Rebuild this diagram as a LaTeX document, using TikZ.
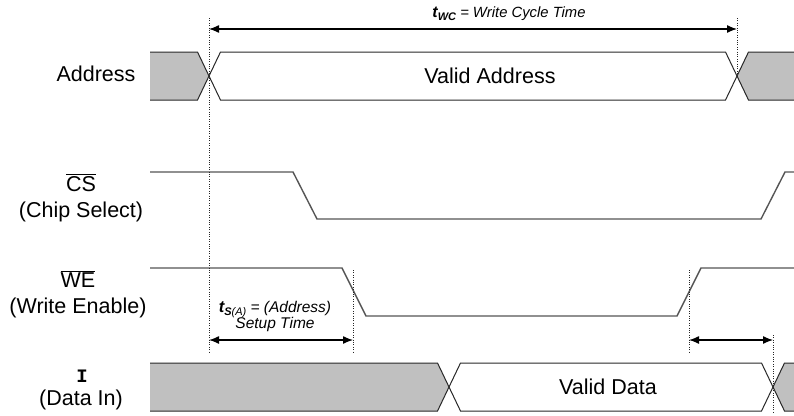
\documentclass[tikz,border=0pt]{standalone}
\usepackage{fontspec}
\setmainfont{Liberation Sans}
\setmonofont{Liberation Mono}
\usetikzlibrary{arrows.meta}
\definecolor{busfill}{RGB}{192,192,192}
\definecolor{sigc}{RGB}{85,85,85}
\definecolor{busc}{RGB}{40,40,40}
\begin{document}
\begin{tikzpicture}[x=1pt,y=-1pt,
  sig/.style={draw=sigc, line width=1.4pt, line join=miter},
  busline/.style={draw=busc, line width=1pt, line join=miter},
  busgray/.style={fill=busfill, draw=none},
  guide/.style={draw=black!85, line width=0.7pt, dash pattern=on 0.8pt off 1.6pt},
  dimarrow/.style={{Latex[length=10pt,width=8pt]}-{Latex[length=10pt,width=8pt]}, line width=1.3pt},
  lbl/.style={inner sep=0pt, font=\fontsize{21.5}{25}\selectfont, align=center},
  note/.style={inner sep=0pt, font=\fontsize{15.5}{17}\selectfont\itshape, align=center}
]
\useasboundingbox (0,0) rectangle (794,415);

% ---- Address bus ----
\fill[busgray] (150,52) -- (197.5,52) -- (209,76) -- (197.5,100) -- (150,100) -- cycle;
\fill[busgray] (794,52) -- (748.5,52) -- (737,76) -- (748.5,100) -- (794,100) -- cycle;
\draw[busline] (150,52) -- (197.5,52) -- (220.5,100) -- (725.5,100) -- (748.5,52) -- (794,52);
\draw[busline] (150,100) -- (197.5,100) -- (220.5,52) -- (725.5,52) -- (748.5,100) -- (794,100);

% ---- Data bus ----
\fill[busgray] (150,363) -- (437.5,363) -- (449,387) -- (437.5,411) -- (150,411) -- cycle;
\fill[busgray] (794,363) -- (784.5,363) -- (773,387) -- (784.5,411) -- (794,411) -- cycle;
\draw[busline] (150,363) -- (437.5,363) -- (460.5,411) -- (761.5,411) -- (784.5,363) -- (794,363);
\draw[busline] (150,411) -- (437.5,411) -- (460.5,363) -- (761.5,363) -- (784.5,411) -- (794,411);

% ---- CS and WE ----
\draw[sig] (150,172) -- (293,172) -- (317,219) -- (761,219) -- (785,172) -- (794,172);
\draw[sig] (150,268) -- (342,268) -- (366,316) -- (677,316) -- (701,268) -- (794,268);

% ---- guides ----
\coordinate (gA1) at (209,18);  \coordinate (gA2) at (209,352);
\coordinate (gB1) at (737,18);  \coordinate (gB2) at (737,76);
\coordinate (gC1) at (353,270); \coordinate (gC2) at (353,352);
\coordinate (gD1) at (689,270); \coordinate (gD2) at (689,352);
\coordinate (gE1) at (773,335); \coordinate (gE2) at (773,414);
\draw[guide] (gA1) -- (gA2);
\draw[guide] (gB1) -- (gB2);
\draw[guide] (gC1) -- (gC2);
\draw[guide] (gD1) -- (gD2);
\draw[guide] (gE1) -- (gE2);

% ---- dimension arrows ----
\coordinate (wcL) at (209,29);  \coordinate (wcR) at (737,29);
\coordinate (suL) at (209,340); \coordinate (suR) at (353,340);
\coordinate (hdL) at (689,340); \coordinate (hdR) at (773,340);
\draw[dimarrow] (wcL) -- (wcR);
\draw[dimarrow] (suL) -- (suR);
\draw[dimarrow] (hdL) -- (hdR);

% ---- texts ----
\node[note, font=\fontsize{14.8}{17}\selectfont\itshape] (twc) at (509,14)
  {{\bfseries\fontsize{16}{17}\selectfont t\raisebox{-0.35ex}{\fontsize{11}{12}\selectfont WC}}\ = Write Cycle Time};
\node[note] (tsu) at (275,316)
  {{\bfseries\fontsize{16.5}{17}\selectfont t\raisebox{-0.35ex}{\fontsize{11}{12}\selectfont S\mdseries(A)}}\ = (Address)\\[-1pt] Setup Time};

\node[lbl] (vaddr) at (490,76) {Valid Address};
\node[lbl] (vdata) at (608,387) {Valid Data};

\node[lbl] (laddr) at (96,74) {Address};
\node[lbl, anchor=base] (lcs) at (81,191) {$\overline{\hbox{CS}}$};
\node[lbl, anchor=base] (lcsname) at (81,217) {(Chip Select)};
\node[lbl, anchor=base] (lwe) at (78,287) {$\overline{\hbox{WE}}$};
\node[lbl, anchor=base] (lwename) at (78,313) {(Write Enable)};
\node[inner sep=0pt, anchor=base, font=\fontsize{19}{20}\selectfont\ttfamily\bfseries] (ldata) at (82,382) {I};
\node[lbl, anchor=base] (ldataname) at (81,405) {(Data In)};
\end{tikzpicture}
\end{document}
